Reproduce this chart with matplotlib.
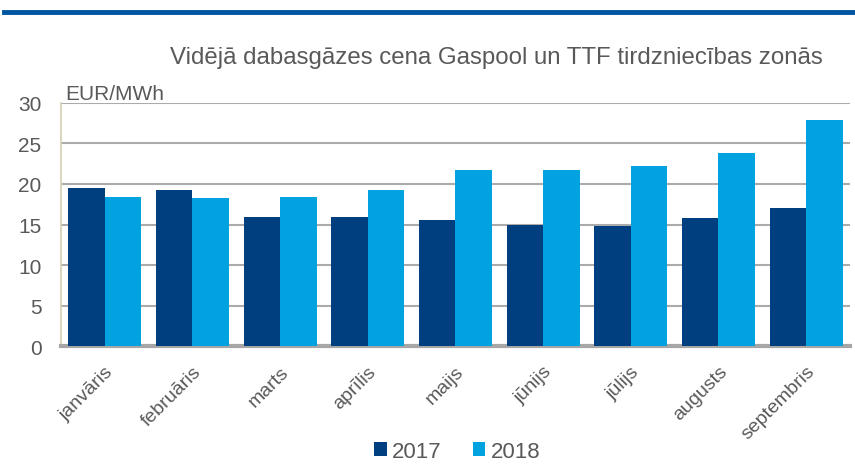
import matplotlib
matplotlib.use("Agg")
import matplotlib.pyplot as plt
import numpy as np

plt.rcParams['font.family'] = ['Liberation Sans', 'DejaVu Sans']

# Mēneši un cenas (EUR/MWh)
months = ['janvāris', 'februāris', 'marts', 'aprīlis', 'maijs',
          'jūnijs', 'jūlijs', 'augusts', 'septembris']
price_2017 = [19.5, 19.2, 15.9, 15.9, 15.6, 14.9, 14.8, 15.8, 17.0]
price_2018 = [18.4, 18.3, 18.4, 19.3, 21.7, 21.7, 22.2, 23.8, 27.9]
yticks = [0, 5, 10, 15, 20, 25, 30]

dark_blue = '#003F7F'
light_blue = '#00A3E0'
grey_text = '#595959'

fig = plt.figure(figsize=(8.55, 4.77), dpi=100)
ax = fig.add_axes([0.0713, 0.2725, 0.9227, 0.5095])

x = np.arange(len(months))
w = 0.416
ax.bar(x - w / 2, price_2017, width=w, color=dark_blue, label='2017', zorder=3)
ax.bar(x + w / 2, price_2018, width=w, color=light_blue, label='2018', zorder=3)

ax.set_xlim(-0.5, len(months) - 0.5)
ax.set_ylim(0, 30)
ax.set_yticks(yticks)
ax.yaxis.grid(True, color='#ABABAB', linewidth=1.5, zorder=0)
ax.set_axisbelow(True)

for s in ['top', 'right']:
    ax.spines[s].set_visible(False)
ax.spines['left'].set_color('#D4CFB0')
ax.spines['left'].set_linewidth(1.2)
ax.spines['bottom'].set_color('#A6A6A6')
ax.spines['bottom'].set_linewidth(3)

ax.tick_params(axis='both', length=0, colors=grey_text)
ax.tick_params(axis='y', labelsize=15, pad=14)
ax.set_xticks(x)
ax.set_xticklabels(months, rotation=45, ha='right', va='top',
                   rotation_mode='anchor', fontsize=14, color=grey_text)
ax.tick_params(axis='x', pad=12)

ax.text(0.006, 1.0, 'EUR/MWh', transform=ax.transAxes, fontsize=15,
        color=grey_text, ha='left', va='bottom')
fig.text(0.962, 0.878, 'Vidējā dabasgāzes cena Gaspool un TTF tirdzniecības zonās',
         fontsize=17.3, color=grey_text, ha='right', va='center')

# Zilā līnija augšā
fig.add_artist(plt.Line2D([0.005, 1.0], [0.972, 0.972], color='#0055A0',
                          linewidth=3.5, transform=fig.transFigure))

leg = fig.legend(loc='center', bbox_to_anchor=(0.535, 0.052), ncol=2,
                 frameon=False, fontsize=16, handlelength=0.55, handleheight=0.55,
                 handletextpad=0.25, columnspacing=1.4)
for t in leg.get_texts():
    t.set_color(grey_text)

fig.savefig('out.png', dpi=100)
